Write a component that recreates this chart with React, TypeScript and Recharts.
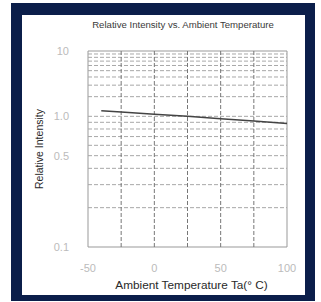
import { LineChart, Line, XAxis, YAxis, ReferenceLine, ReferenceArea } from 'recharts'

const TEMPS = [-40, -25, 0, 25, 50, 75, 100]
const INTENSITY = [1.22, 1.16, 1.08, 1.0, 0.96, 0.92, 0.88]

const Y_TICKS = [0.1, 0.5, 1.0, 10]
const Y_TICK_LABELS = ['0.1', '0.5', '1.0', '10']
const X_TICKS = [-50, 0, 50, 100]
const X_GRID = [-25, 0, 25, 50, 75]
const Y_GRID = [0.2, 0.3, 0.4, 0.5, 0.6, 0.7, 0.8, 0.9, 1, 2, 3, 4, 5, 6, 7, 8, 9]

// the scanned chart squeezes the 1..10 decade to half the height of 0.1..1
const toT = (v: number) => (v >= 1 ? 2 + Math.log10(v) : 2 * (1 + Math.log10(v)))

const FONT = '"Liberation Sans", Arial, sans-serif'

export default function App() {
  const data = TEMPS.map((t, i) => ({ temp: t, y: toT(INTENSITY[i]) }))
  const tickT = Y_TICKS.map(toT)

  return (
    <div style={{ position: 'absolute', left: 0, top: 0, width: 321, height: 302, background: '#fff', fontFamily: FONT }}>
      <div style={{ position: 'absolute', left: 11, top: 3, width: 304, height: 298, background: '#0b1e4a' }} />
      <div style={{ position: 'absolute', left: 22, top: 15, width: 283, height: 280, background: '#fff' }} />
      <div style={{ position: 'absolute', left: 63, top: 20, width: 240, textAlign: 'center', fontSize: 9.6, lineHeight: '10px', color: '#3a3a3a' }}>
        Relative Intensity vs. Ambient Temperature
      </div>
      <div style={{ position: 'absolute', left: 0, top: 0 }}>
        <LineChart width={321} height={302} data={data} margin={{ top: 51, right: 34, bottom: 7, left: 28 }}>
          <XAxis dataKey="temp" type="number" domain={[-50, 100]} ticks={X_TICKS} axisLine={false} tickLine={false}
            tickSize={0} tickMargin={17} height={48}
            tick={{ fontSize: 11, fill: '#bbbbbb', fontFamily: FONT }}
            label={{ value: 'Ambient Temperature Ta(° C)', position: 'insideBottom', offset: 6, dx: 4, fontSize: 11.8, fill: '#2a2a2a', fontFamily: FONT }} />
          <YAxis dataKey="y" type="number" domain={[0, 3]} ticks={tickT} axisLine={false} tickLine={false}
            tickSize={0} tickMargin={19} width={60}
            tickFormatter={(v: number) => Y_TICK_LABELS[tickT.findIndex(t => Math.abs(t - v) < 1e-6)] ?? ''}
            tick={{ fontSize: 11, fill: '#bbbbbb', fontFamily: FONT }}
            label={{ value: 'Relative Intensity', angle: -90, position: 'insideLeft', offset: 11, fontSize: 10.5, fill: '#2a2a2a', fontFamily: FONT, style: { textAnchor: 'middle' } }} />
          {Y_GRID.map(v => (
            <ReferenceLine key={'h' + v} y={toT(v)} stroke="#a8a8a8" strokeDasharray="4 2" />
          ))}
          {X_GRID.map(v => (
            <ReferenceLine key={'v' + v} x={v} stroke="#777" strokeDasharray="4 2" />
          ))}
          <ReferenceArea x1={-50} x2={100} y1={0} y2={3} fill="none" stroke="#999" />
          <Line dataKey="y" type="linear" stroke="#444" strokeWidth={1.5} dot={false} isAnimationActive={false} />
        </LineChart>
      </div>
    </div>
  )
}
